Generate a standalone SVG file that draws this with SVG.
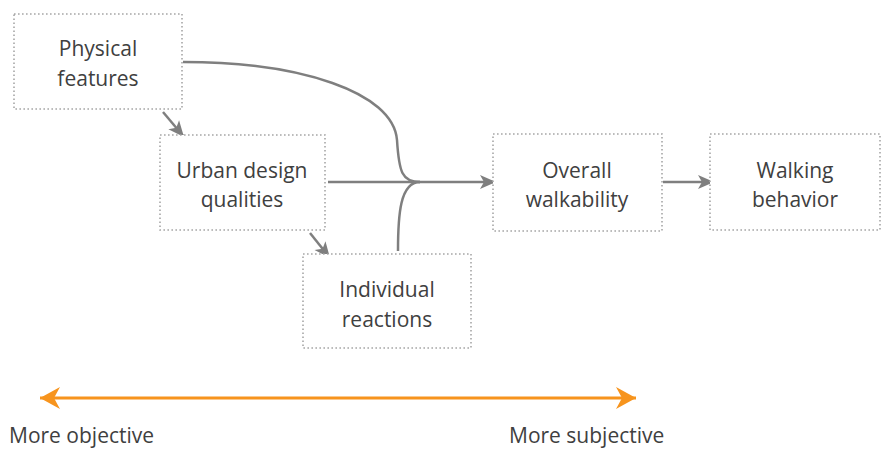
<svg xmlns="http://www.w3.org/2000/svg" width="884" height="450" viewBox="0 0 884 450">
<style>
.box{fill:#fff;stroke:#a6a6a6;stroke-width:1.6;stroke-dasharray:1.6 2.4}
.t{font-family:"Open Sans","Liberation Sans",sans-serif;font-size:21px;fill:#404040;text-anchor:middle}
.c{fill:none;stroke:#7f7f7f;stroke-width:2.5}
.o{fill:none;stroke:#f7941d;stroke-width:3}
.lab{font-family:"Open Sans","Liberation Sans",sans-serif;font-size:21px;fill:#404040}
</style>
<defs>
<marker id="ah" markerUnits="userSpaceOnUse" markerWidth="20" markerHeight="16" refX="18" refY="8" orient="auto">
<path d="M2,1 L18,8 L2,15 L6,8 Z" fill="#7f7f7f"/>
</marker>
<marker id="oh" markerUnits="userSpaceOnUse" markerWidth="24" markerHeight="24" refX="22" refY="12" orient="auto-start-reverse">
<path d="M2,1 L22,12 L2,23 L8,12 Z" fill="#f7941d"/>
</marker>
</defs>
<g id="connectors">
<path class="c" d="M163,112 L184,137" marker-end="url(#ah)"/>
<path class="c" d="M310,233 L330,258" marker-end="url(#ah)"/>
<path class="c" d="M183,62 C300,62 393,92 397,140 C399,172 402,182 420,182"/>
<path class="c" d="M398,251 C398,215 400,182 420,182"/>
<path class="c" d="M328,182 L496,182" marker-end="url(#ah)"/>
<path class="c" d="M663,182 L714,182" marker-end="url(#ah)"/>
</g>
<g id="physical">
<rect class="box" x="14" y="14" width="168" height="95"/>
<text class="t" x="98" y="56">Physical</text>
<text class="t" x="98" y="86">features</text>
</g>
<g id="urban">
<rect class="box" x="160" y="135" width="165" height="95"/>
<text class="t" x="242" y="178">Urban design</text>
<text class="t" x="242" y="207">qualities</text>
</g>
<g id="individual">
<rect class="box" x="303" y="254" width="168" height="94"/>
<text class="t" x="387" y="297">Individual</text>
<text class="t" x="387" y="327">reactions</text>
</g>
<g id="overall">
<rect class="box" x="493" y="134" width="169" height="97"/>
<text class="t" x="577" y="178">Overall</text>
<text class="t" x="577" y="207">walkability</text>
</g>
<g id="walking">
<rect class="box" x="710" y="134" width="170" height="96"/>
<text class="t" x="795" y="178">Walking</text>
<text class="t" x="795" y="207">behavior</text>
</g>
<g id="scale">
<path class="o" d="M40,398 L636,398" marker-start="url(#oh)" marker-end="url(#oh)"/>
<text class="lab" x="9" y="443">More objective</text>
<text class="lab" x="509" y="443">More subjective</text>
</g>
</svg>
